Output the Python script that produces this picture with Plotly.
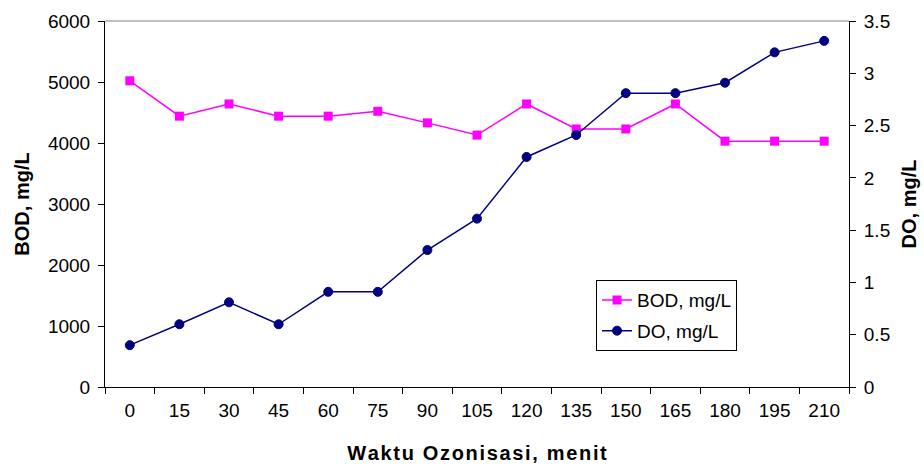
import plotly.graph_objects as go

times = ["0", "15", "30", "45", "60", "75", "90", "105", "120", "135", "150", "165", "180", "195", "210"]
bod = [5020, 4440, 4640, 4440, 4440, 4520, 4330, 4130, 4640, 4230, 4230, 4640, 4030, 4030, 4030]
do = [0.40, 0.60, 0.81, 0.60, 0.91, 0.91, 1.31, 1.61, 2.20, 2.41, 2.81, 2.81, 2.91, 3.20, 3.31]

FONT = "Liberation Sans, Arial, sans-serif"
HS = "\u200a"

def spaced(s):
    return HS.join(list(s))

fig = go.Figure()
fig.add_trace(go.Scatter(x=times, y=bod, name="BOD, mg/L", mode="lines+markers",
                         line=dict(color="#FF00FF", width=1.5),
                         marker=dict(symbol="square", size=9, color="#FF00FF"),
                         legendgroup="a", yaxis="y"))
fig.add_trace(go.Scatter(x=times, y=do, name="DO, mg/L", mode="lines+markers",
                         line=dict(color="#000080", width=1.5),
                         marker=dict(symbol="circle", size=9, color="#000080",
                                     line=dict(color="#000080", width=1)),
                         legendgroup="b", yaxis="y2"))

fig.update_layout(
    width=924, height=464,
    margin=dict(l=105, r=75, t=21, b=77),
    paper_bgcolor="white", plot_bgcolor="white",
    font=dict(family=FONT, size=19, color="black"),
    showlegend=True,
    legend=dict(x=0.66, y=0.292, xanchor="left", yanchor="top",
                bordercolor="black", borderwidth=1, bgcolor="white",
                font=dict(size=19), tracegroupgap=3),
    xaxis=dict(type="category", tickson="boundaries", ticks="outside", ticklen=6,
               tickcolor="black", showline=True, linecolor="black", linewidth=1,
               showgrid=False, zeroline=False, range=[-0.5, 14.5], automargin=False,
               ticklabelstandoff=6,
               title=dict(text="<b>" + spaced("Waktu Ozonisasi, menit") + "</b>",
                         font=dict(size=20), standoff=28)),
    xaxis2=dict(overlaying="x", type="linear", range=[-0.5, 14.5], tickmode="array",
                tickvals=[i - 0.5 for i in range(16)], ticks="inside", ticklen=5,
                tickcolor="black", showticklabels=False, showline=False,
                showgrid=False, zeroline=False),
    yaxis=dict(range=[0, 6000], dtick=1000, ticks="outside", ticklen=6,
               tickcolor="black", showline=True, linecolor="black", linewidth=1,
               showgrid=False, zeroline=False, automargin=False, ticklabelstandoff=4,
               title=dict(text="<b>BOD, mg/L</b>", font=dict(size=20), standoff=12)),
    yaxis2=dict(range=[0, 3.5], dtick=0.5, overlaying="y", side="right",
                ticks="outside", ticklen=6, tickcolor="black", showline=True,
                linecolor="black", linewidth=1, showgrid=False, zeroline=False,
                automargin=False, ticklabelstandoff=4,
                title=dict(text="<b>DO, mg/L</b>", font=dict(size=20), standoff=12)),
    yaxis3=dict(range=[0, 6000], overlaying="y", side="left", tickmode="array",
                tickvals=[0, 1000, 2000, 3000, 4000, 5000, 6000], ticks="inside",
                ticklen=5, tickcolor="black", showticklabels=False, showline=False,
                showgrid=False, zeroline=False),
    yaxis4=dict(range=[0, 3.5], overlaying="y", side="right", tickmode="array",
                tickvals=[0, 0.5, 1, 1.5, 2, 2.5, 3, 3.5], ticks="inside",
                ticklen=5, tickcolor="black", showticklabels=False, showline=False,
                showgrid=False, zeroline=False),
    shapes=[dict(type="line", xref="paper", yref="paper", x0=0, x1=1, y0=1, y1=1,
                 line=dict(color="#808080", width=1))],
)

fig.write_html("out.html", config={"displayModeBar": False},
               post_script="document.body.style.margin='0';")
